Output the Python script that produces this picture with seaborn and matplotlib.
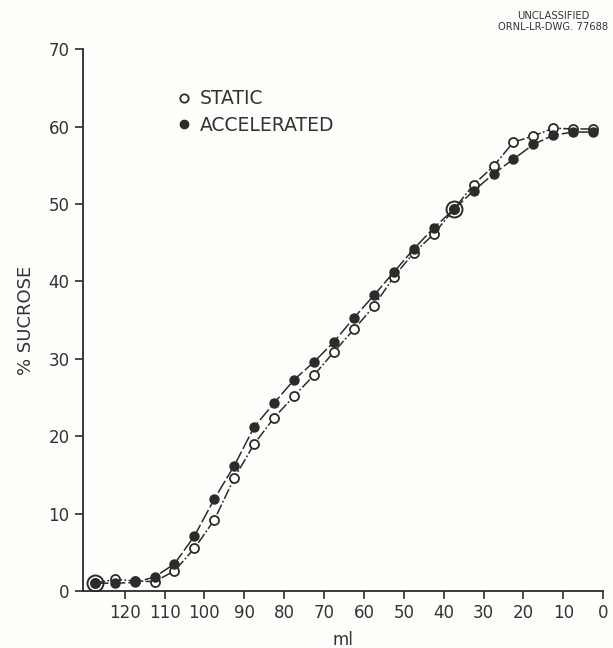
import matplotlib
matplotlib.use("Agg")
import matplotlib.pyplot as plt
import seaborn as sns
import numpy as np
import pandas as pd
from matplotlib.lines import Line2D

# ---- data ----
ml = [127.5, 122.5, 117.5, 112.5, 107.5, 102.5, 97.5, 92.5, 87.5, 82.5,
      77.5, 72.5, 67.5, 62.5, 57.5, 52.5, 47.5, 42.5, 37.5, 32.5,
      27.5, 22.5, 17.5, 12.5, 7.5, 2.5]
static = [1.0, 1.5, 1.3, 1.2, 2.6, 5.5, 9.2, 14.6, 19.0, 22.4,
          25.2, 27.9, 30.9, 33.8, 36.8, 40.6, 43.7, 46.1, 49.3, 52.5,
          54.9, 58.0, 58.8, 59.8, 59.7, 59.7]
accelerated = [1.0, 1.0, 1.1, 1.8, 3.5, 7.1, 11.9, 16.2, 21.2, 24.3,
               27.3, 29.6, 32.2, 35.3, 38.2, 41.2, 44.2, 46.9, 49.3, 51.7,
               53.9, 55.8, 57.7, 58.9, 59.3, 59.3]
series_labels = ["STATIC", "ACCELERATED"]
x_ticks = [120, 110, 100, 90, 80, 70, 60, 50, 40, 30, 20, 10, 0]
y_ticks = [0, 10, 20, 30, 40, 50, 60, 70]

df = pd.DataFrame({"ml": ml, "static": static, "accelerated": accelerated})

sns.set_style("ticks")
plt.rcParams["font.family"] = ["DejaVu Sans"]

ink = "#2b2b2b"
bg = "#fefefa"

fig = plt.figure(figsize=(6.13, 6.48), dpi=100, facecolor=bg)
ax = fig.add_axes([0.135, 0.088, 0.849, 0.836])
ax.set_facecolor(bg)

sns.lineplot(data=df, x="ml", y="static", ax=ax, color=ink, lw=1.1,
             linestyle=(0, (7, 1.5, 1.2, 1.5)), marker="o", markersize=6.5,
             markerfacecolor="white", markeredgecolor=ink, markeredgewidth=1.3,
             sort=False, zorder=3)
sns.lineplot(data=df, x="ml", y="accelerated", ax=ax, color=ink, lw=1.1,
             linestyle=(0, (9, 2)), marker="o", markersize=6.5,
             markerfacecolor=ink, markeredgecolor=ink, markeredgewidth=1.0,
             sort=False, zorder=4)

# ring where both series coincide
same = df[np.isclose(df["static"], df["accelerated"])]
ax.plot(same["ml"], same["accelerated"], linestyle="none", marker="o",
        markersize=11.5, markerfacecolor="none", markeredgecolor=ink,
        markeredgewidth=1.4, zorder=5)

ax.set_xlim(130.5, 0)
ax.set_ylim(0, 70)
ax.set_xticks(x_ticks)
ax.set_yticks(y_ticks)
ax.tick_params(axis="both", colors=ink, labelsize=12, length=6, width=1.2,
               direction="out", labelcolor="#333333")
for s in ["top", "right"]:
    ax.spines[s].set_visible(False)
for s in ["left", "bottom"]:
    ax.spines[s].set_color(ink)
    ax.spines[s].set_linewidth(1.3)

ax.set_xlabel("ml", fontsize=12, color="#333333", labelpad=6)
ax.set_ylabel("% SUCROSE", fontsize=13, color="#333333", labelpad=10)

handles = [
    Line2D([], [], linestyle="none", marker="o", markersize=6,
           markerfacecolor="white", markeredgecolor=ink, markeredgewidth=1.3),
    Line2D([], [], linestyle="none", marker="o", markersize=6,
           markerfacecolor=ink, markeredgecolor=ink),
]
ax.legend(handles, series_labels, loc="upper left",
          bbox_to_anchor=(0.145, 0.957), frameon=False, fontsize=13.5,
          handletextpad=0.3, labelspacing=0.4, handlelength=1.0,
          labelcolor="#333333")

fig.text(0.902, 0.967, "UNCLASSIFIED\nORNL-LR-DWG. 77688", ha="center",
         va="center", fontsize=7.2, color="#333333", linespacing=1.1)

fig.savefig("out.png", dpi=100, facecolor=bg)
